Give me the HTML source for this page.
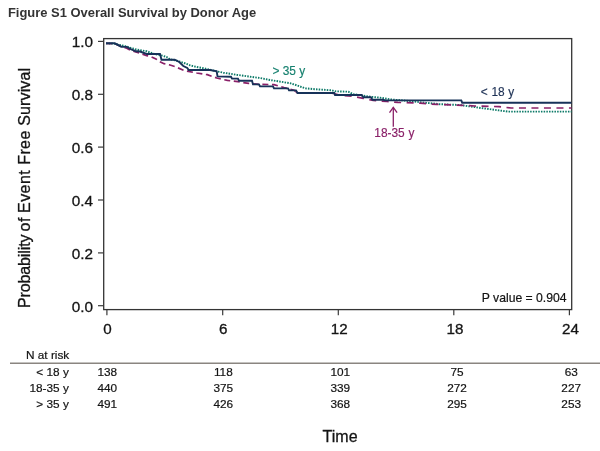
<!DOCTYPE html>
<html lang="en">
<head>
<meta charset="utf-8">
<title>Figure S1 Overall Survival by Donor Age</title>
<style>
  html, body { margin: 0; padding: 0; background: #ffffff; }
  body { width: 600px; height: 451px; overflow: hidden; font-family: "Liberation Sans", sans-serif; }
  svg { display: block; }
  text { font-family: "Liberation Sans", sans-serif; fill: #141414; stroke: #141414; stroke-width: 0.3px; }
  .title { font-weight: bold; font-size: 12.95px; fill: #333333; stroke: none; }
  .ytick { font-size: 15.3px; text-anchor: end; }
  .xtick { font-size: 15.2px; text-anchor: middle; }
  .axis { font-size: 16px; }
  .tbl { font-size: 11.8px; stroke-width: 0.2px; }
  .num { font-size: 11.8px; stroke-width: 0.2px; text-anchor: middle; }
  .lab { font-size: 11.9px; stroke-width: 0.15px; }
  .pval { font-size: 12.2px; stroke-width: 0.2px; }
</style>
</head>
<body>
<svg width="600" height="451" viewBox="0 0 600 451">
  <rect x="0" y="0" width="600" height="451" fill="#ffffff"/>
  <text class="title" x="7.9" y="16.6">Figure S1 Overall Survival by Donor Age</text>

  <!-- plot frame -->
  <rect x="103.7" y="38.6" width="468" height="271" fill="none" stroke="#343434" stroke-width="1.3"/>

  <!-- y ticks -->
  <g stroke="#3a3a3a" stroke-width="1.2">
    <line x1="98" y1="41.4" x2="103.7" y2="41.4"/>
    <line x1="98" y1="94.3" x2="103.7" y2="94.3"/>
    <line x1="98" y1="147.1" x2="103.7" y2="147.1"/>
    <line x1="98" y1="200" x2="103.7" y2="200"/>
    <line x1="98" y1="252.9" x2="103.7" y2="252.9"/>
    <line x1="98" y1="305.7" x2="103.7" y2="305.7"/>
    <line x1="106.9" y1="309.6" x2="106.9" y2="315.3"/>
    <line x1="222.7" y1="309.6" x2="222.7" y2="315.3"/>
    <line x1="338.3" y1="309.6" x2="338.3" y2="315.3"/>
    <line x1="453.8" y1="309.6" x2="453.8" y2="315.3"/>
    <line x1="569.4" y1="309.6" x2="569.4" y2="315.3"/>
  </g>
  <g class="ytick">
    <text class="ytick" x="93" y="47.3">1.0</text>
    <text class="ytick" x="93" y="100.2">0.8</text>
    <text class="ytick" x="93" y="153.0">0.6</text>
    <text class="ytick" x="93" y="205.9">0.4</text>
    <text class="ytick" x="93" y="258.8">0.2</text>
    <text class="ytick" x="93" y="311.6">0.0</text>
  </g>
  <g>
    <text class="xtick" x="107.5" y="333.8">0</text>
    <text class="xtick" x="223.3" y="333.8">6</text>
    <text class="xtick" x="339.3" y="333.8">12</text>
    <text class="xtick" x="455" y="333.8">18</text>
    <text class="xtick" x="570.5" y="333.8">24</text>
  </g>

  <!-- y axis label -->
  <text class="axis" transform="translate(30,0) rotate(-90)"><tspan x="-308" letter-spacing="-0.12">Probability</tspan> <tspan x="-231.4" letter-spacing="0.5">of</tspan> <tspan x="-212.9" letter-spacing="0.4">Event</tspan> <tspan x="-164.8" letter-spacing="0.4">Free</tspan> <tspan x="-125.7" letter-spacing="0.12">Survival</tspan></text>
  <!-- x axis label -->
  <text class="axis" x="340.1" y="442" text-anchor="middle">Time</text>

  <!-- curves -->
  <!-- > 35 y : teal dotted -->
  <polyline fill="none" stroke="#0d7a68" stroke-width="1.9" stroke-dasharray="1.5 1.2"
    points="106,43.4 114,43.6 120,45 126.7,46.5 132,48.3 137.3,49.7 146.7,51.2 153.3,53.7 162.7,55.7 166.7,57 170,59.3 176.7,60.7 183.3,62.7 190,65.3 196.7,67 203.3,68.2 210,69.7 216.7,71.3 223.3,72.7 230,73.7 236.7,74.8 243.3,75.7 250,76.7 260,78 270,80 280,81.6 290,83.2 298.3,85.8 305,88.3 315,89.2 331.7,90.3 335,91.3 348.3,91.7 353.3,94.2 361.7,95.4 370,96.7 380,97.6 390,99.3 406.7,100.8 420,102.2 440,104.2 460,105 481,108 499,110.4 508,111.6 571.5,111.6"/>
  <!-- 18-35 y : purple dashed -->
  <polyline fill="none" stroke="#8a2068" stroke-width="1.7" stroke-dasharray="6 3.6"
    points="106,43.4 114.7,43.7 120,46 126.7,48.3 130.7,50.3 140,53.2 146.7,55.7 150.7,56.5 156,59 160,61.7 164,63.7 169.3,64.8 175.3,66.7 184.7,70.7 196.7,73 207.3,74.7 216.7,78 227.3,80.4 238,81.7 248.7,83.4 260,84.4 274,84.6 284,87.6 294,90.2 295.5,91.4"/>
  <polyline fill="none" stroke="#8a2068" stroke-width="1.7" stroke-dasharray="7 5.5"
    points="295.5,91.4 297.5,93 333,93.3 340,95.3 353.3,96.4 363.3,98.3 373.3,100.4 386.7,101.5 398,102.4 420,103.2 436.7,104.4 454,105 475,106 499,106.6 511,108 571.5,108"/>
  <!-- < 18 y : navy solid -->
  <polyline fill="none" stroke="#173259" stroke-width="1.9"
    points="106,43.3 114.7,43.3 121.3,46.7 126.7,46.9 131.3,49.4 136,51.3 140,51.5 146.7,54 160,54 161.5,59.7 174.7,59.7 179.3,62 183.3,66 187.3,68 188.7,70 210,70 216.7,71.3 217.5,76.4 231,76.8 232,78.6 238,78.6 239,80.8 252,80.8 253,84.4 259,84.4 260,86.4 273,86.4 274,88.4 288,88.4 289,90.2 296,90.4 297.5,93 334.2,93 335,95 361.7,95 363.3,97.2 370.8,97.2 372.5,99.8 383.3,99.8 385,100.4 461.3,100.4 462.2,102.7 571.5,102.7"/>

  <!-- curve labels -->
  <text class="lab" x="272.4" y="74.8" style="fill:#16806f;stroke:#16806f">&gt; 35 y</text>
  <text class="lab" x="480.8" y="96.3" word-spacing="0.4" style="fill:#1c3054;stroke:#1c3054">&lt; 18 y</text>
  <text class="lab" x="374.3" y="136.8" word-spacing="0.4" style="fill:#8a2068;stroke:#8a2068">18-35 y</text>
  <g stroke="#8a2068" stroke-width="1.3" fill="none">
    <line x1="393.3" y1="107.5" x2="393.3" y2="126.7"/>
    <polyline points="389.5,112.7 393.3,107.3 397.1,112.7"/>
  </g>

  <!-- P value -->
  <text class="pval" x="566.6" y="301.6" text-anchor="end">P value = 0.904</text>

  <!-- risk table -->
  <text class="tbl" x="26" y="358.8">N at risk</text>
  <line x1="10" y1="363.3" x2="600" y2="363.3" stroke="#8a8580" stroke-width="1.4"/>
  <g class="tbl" text-anchor="end">
    <text class="tbl" x="68.8" y="375.9">&lt; 18 y</text>
    <text class="tbl" x="68.8" y="391.8">18-35 y</text>
    <text class="tbl" x="68.8" y="407.7">&gt; 35 y</text>
  </g>
  <g>
    <text class="num" x="107.3" y="375.9">138</text>
    <text class="num" x="107.3" y="391.8">440</text>
    <text class="num" x="107.3" y="407.7">491</text>
    <text class="num" x="223.3" y="375.9">118</text>
    <text class="num" x="223.3" y="391.8">375</text>
    <text class="num" x="223.3" y="407.7">426</text>
    <text class="num" x="340.3" y="375.9">101</text>
    <text class="num" x="340.3" y="391.8">339</text>
    <text class="num" x="340.3" y="407.7">368</text>
    <text class="num" x="457" y="375.9">75</text>
    <text class="num" x="457" y="391.8">272</text>
    <text class="num" x="457" y="407.7">295</text>
    <text class="num" x="571.2" y="375.9">63</text>
    <text class="num" x="571.2" y="391.8">227</text>
    <text class="num" x="571.2" y="407.7">253</text>
  </g>
</svg>
</body>
</html>
